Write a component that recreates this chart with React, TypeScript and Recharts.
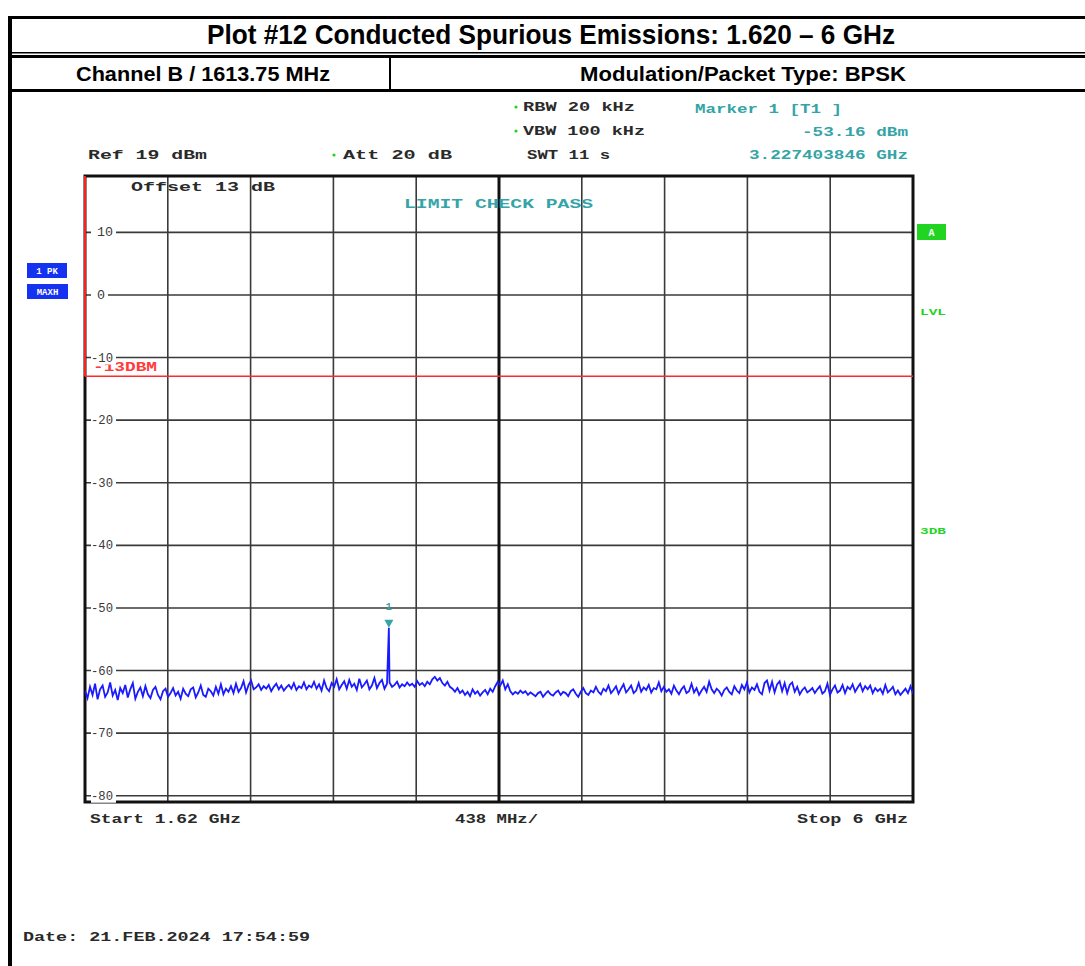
import React from 'react';
import {
  LineChart,
  Line,
  XAxis,
  YAxis,
  CartesianGrid,
  ReferenceLine,
  ReferenceDot,
  ReferenceArea,
} from 'recharts';

// ---------- data ----------
const startFreq = 1.62; // GHz
const stopFreq = 6; // GHz
const centerFreq = 3.81; // GHz
const xTicks = [1.62, 2.058, 2.496, 2.934, 3.372, 3.81, 4.248, 4.686, 5.124, 5.562, 6];
const yTicks = [10, 0, -10, -20, -30, -40, -50, -60, -70, -80];
const refLevel = 19; // dBm
const bottomLevel = -81; // dBm
const limitLevel = -13; // dBm
const limitLabel = '-13DBM';
const markerFreq = 3.227403846; // GHz
const markerLevel = -53.16; // dBm

const traceLevels = [
  -63.2, -64.4, -62.6, -63.9, -62.1, -64.6, -63.0, -62.4, -64.2, -63.5, -61.9, -64.0, -63.1, -64.7, -62.8,
  -63.6, -62.3, -64.3, -63.0, -62.0, -64.5, -63.4, -62.7, -64.1, -62.5, -63.8, -64.4, -63.1, -62.6, -63.9,
  -64.6, -63.3, -62.9, -64.2, -63.6, -62.8, -64.0, -63.4, -64.5, -62.9, -63.7, -64.1, -63.0, -62.7, -64.3,
  -63.5, -62.4, -63.9, -64.2, -62.9, -63.3, -64.0, -62.6, -63.7, -62.2, -63.8, -62.9, -63.4, -62.5, -63.6,
  -62.1, -63.4, -62.8, -61.7, -63.5, -62.3, -61.6, -63.0, -62.7, -62.2, -63.1, -62.5, -62.9, -62.3, -63.3,
  -62.6, -62.1, -63.0, -62.4, -63.2, -62.7, -62.3, -62.9, -62.0, -63.1, -62.5, -62.8, -61.9, -63.0, -62.4,
  -62.7, -61.8, -62.9, -62.2, -63.2, -61.6, -62.8, -63.3, -62.0, -62.6, -61.4, -63.0, -62.3, -61.7, -62.9,
  -61.5, -62.6, -62.1, -63.1, -61.3, -62.7, -62.2, -61.6, -63.0, -62.4, -61.2, -62.8, -62.0, -61.5, -62.9,
  -62.1, -61.9, -62.6, -62.3, -61.8, -62.7, -62.2, -62.5, -61.9, -62.4, -62.1, -62.6, -61.7, -62.3, -62.0,
  -62.5, -61.8, -62.2, -61.4, -61.0, -61.6, -61.2, -62.0, -62.4, -61.8, -62.6, -62.9, -63.4, -62.8, -63.6,
  -63.2, -63.9, -63.4, -64.1, -63.0, -63.7, -63.3, -64.0, -63.5, -63.1, -63.8, -62.9, -63.4, -62.5, -61.8,
  -62.4, -61.6, -63.0, -62.2, -63.3, -63.8, -63.4, -63.7, -63.2, -63.6, -63.3, -63.9, -63.5, -63.8, -64.1,
  -63.6, -63.4, -64.2, -63.7, -63.3, -63.8, -64.0, -63.5, -63.2, -63.9, -63.4, -63.6, -64.1, -63.3, -63.0,
  -63.7, -64.2, -63.4, -62.8, -63.6, -63.9, -63.2, -63.5, -62.6, -63.4, -63.8, -62.9, -63.3, -62.4, -63.6,
  -63.1, -62.5, -63.7, -62.9, -62.2, -63.5, -63.0, -62.4, -63.6, -63.2, -62.0, -63.4, -62.7, -63.1, -62.3,
  -63.5, -62.8, -63.0, -61.9, -63.3, -62.6, -63.4, -63.0, -63.7, -62.4, -63.2, -63.8, -63.0, -62.5, -63.6,
  -63.3, -62.1, -63.5, -62.8, -63.9, -63.2, -62.6, -63.4, -61.8, -63.0, -63.6, -62.9, -63.3, -64.0, -63.1,
  -62.7, -63.4, -63.8, -62.5, -63.2, -63.6, -62.3, -63.0, -61.9, -63.5, -62.7, -63.1, -62.2, -63.4, -63.8,
  -62.0, -61.6, -63.2, -61.8, -63.5, -62.2, -61.7, -63.3, -62.0, -63.6, -62.3, -61.9, -63.4, -62.6, -63.8,
  -63.1, -62.7, -63.5, -63.2, -62.8, -63.6, -63.0, -62.5, -63.7, -63.3, -62.1, -63.9, -63.0, -62.4, -63.5,
  -63.2, -62.3, -63.6, -62.6, -63.0, -62.2, -63.4, -62.7, -62.1, -63.3, -62.5, -63.0, -62.4, -63.6, -62.8,
  -63.3, -62.9, -63.7, -62.3, -63.5, -63.1, -62.6, -63.8, -63.2, -63.9, -63.4, -62.9, -63.6, -62.5, -63.7,
];

const sweepData = traceLevels
  .map((v, i) => ({ f: startFreq + (i * (stopFreq - startFreq)) / (traceLevels.length - 1), v }))
  .concat([{ f: markerFreq, v: markerLevel }])
  .sort((a, b) => a.f - b.f);

// ---------- layout ----------
const W = 1085;
const H = 966;
const PLOT = { left: 85, top: 176, right: 913, bottom: 802 };

const MONO = '"Liberation Mono", "DejaVu Sans Mono", monospace';
const NARROW = '"Liberation Sans Narrow", "Liberation Sans", Arial, sans-serif';
const TEAL = '#34a4a6';
const INK = '#2a2a2a';
const GREEN = '#22d422';
const BLUE_BOX = '#1432f0';

type TProps = { x: number; y: number; w: number; children: string; fill?: string; size?: number };
const MonoText = ({ x, y, w, children, fill = INK, size = 12 }: TProps) => (
  <text
    x={x}
    y={y + 4}
    textLength={w}
    lengthAdjust="spacingAndGlyphs"
    fontFamily={MONO}
    fontWeight="bold"
    fontSize={size}
    fill={fill}
  >
    {children}
  </text>
);

const YTick = (props: any) => {
  const { y, payload } = props;
  const v: number = payload.value;
  const label = String(v);
  const digitStart = PLOT.left + 12;
  const charW = 8;
  const neg = v < 0;
  const textX = neg ? digitStart - 6 : digitStart;
  const digits = neg ? label.length - 1 : label.length;
  const endX = digitStart + digits * charW;
  return (
    <g>
      <rect x={PLOT.left + 6} y={y - 7} width={endX - PLOT.left - 3} height={14} fill="#fff" />
      <text
        x={textX}
        y={y + 4}
        fontFamily={MONO}
        fontSize={12}
        fill="#3a3a3a"
        textLength={endX - textX}
        lengthAdjust="spacingAndGlyphs"
      >
        {label}
      </text>
    </g>
  );
};

const LimitLabel = (props: any) => {
  const { viewBox } = props;
  const x = viewBox.x + 8;
  const y = viewBox.y - 5;
  return (
    <text
      x={x}
      y={y}
      textLength={64}
      lengthAdjust="spacingAndGlyphs"
      fontFamily={MONO}
      fontWeight="bold"
      fontSize={12}
      fill="#ff3a3a"
    >
      {limitLabel}
    </text>
  );
};

const MarkerShape = (props: any) => {
  const { cx, cy } = props;
  return (
    <g>
      <polygon points={`${cx - 4.5},${cy - 8} ${cx + 4.5},${cy - 8} ${cx},${cy}`} fill={TEAL} />
      <text x={cx} y={cy - 18} textAnchor="middle" fontFamily={MONO} fontWeight="bold" fontSize={10} fill={TEAL}>
        1
      </text>
    </g>
  );
};

export default function App() {
  return (
    <div
      style={{
        position: 'absolute',
        left: 0,
        top: 0,
        width: W,
        height: H,
        overflow: 'hidden',
        background: '#fff',
      }}
    >
      <div style={{ position: 'absolute', left: 0, top: 0 }}>
        <LineChart
          width={W}
          height={H}
          data={sweepData}
          margin={{ top: PLOT.top, left: PLOT.left, right: W - PLOT.right, bottom: H - PLOT.bottom }}
        >
          <XAxis
            dataKey="f"
            type="number"
            domain={[startFreq, stopFreq]}
            ticks={xTicks}
            allowDataOverflow
            hide
          />
          <YAxis
            type="number"
            domain={[bottomLevel, refLevel]}
            ticks={yTicks}
            allowDataOverflow
            mirror
            axisLine={false}
            tickLine={false}
            tick={<YTick />}
            interval={0}
          />
          <CartesianGrid stroke="#3a3a3a" strokeWidth={1.6} />
          <ReferenceLine x={centerFreq} stroke="#111" strokeWidth={3} />
          <ReferenceLine y={limitLevel} stroke="#ff2a2a" strokeWidth={1.6} label={<LimitLabel />} />
          <ReferenceArea
            x1={startFreq}
            x2={stopFreq}
            y1={bottomLevel}
            y2={refLevel}
            fill="none"
            stroke="#111"
            strokeWidth={3}
          />
          <ReferenceLine
            segment={[
              { x: startFreq, y: refLevel },
              { x: startFreq, y: limitLevel },
            ]}
            stroke="#ff2020"
            strokeWidth={2}
          />
          <Line
            type="linear"
            dataKey="v"
            stroke="#1a1aff"
            strokeWidth={1.8}
            dot={false}
            isAnimationActive={false}
          />
          <ReferenceDot x={markerFreq} y={markerLevel} r={0} shape={<MarkerShape />} />
        </LineChart>
      </div>

      <svg
        width={W}
        height={H}
        style={{ position: 'absolute', left: 0, top: 0, pointerEvents: 'none' }}
      >
        {/* header table */}
        <rect x={8} y={16} width={1090} height={3} fill="#000" />
        <rect x={8} y={16} width={4} height={960} fill="#000" />
        <rect x={8} y={52} width={1090} height={1.5} fill="#000" />
        <rect x={8} y={55} width={1090} height={3} fill="#000" />
        <rect x={8} y={89} width={1090} height={3} fill="#000" />
        <rect x={389} y={57} width={2} height={33} fill="#000" />
        <text
          x={207}
          y={44}
          textLength={688}
          lengthAdjust="spacingAndGlyphs"
          fontFamily={NARROW}
          fontWeight="bold"
          fontSize={28}
          fill="#000"
        >
          Plot #12 Conducted Spurious Emissions: 1.620 – 6 GHz
        </text>
        <text
          x={76}
          y={81}
          textLength={254}
          lengthAdjust="spacingAndGlyphs"
          fontFamily={NARROW}
          fontWeight="bold"
          fontSize={21}
          fill="#000"
        >
          Channel B / 1613.75 MHz
        </text>
        <text
          x={580}
          y={81}
          textLength={326}
          lengthAdjust="spacingAndGlyphs"
          fontFamily={NARROW}
          fontWeight="bold"
          fontSize={21}
          fill="#000"
        >
          Modulation/Packet Type: BPSK
        </text>

        {/* instrument settings */}
        <circle cx={516} cy={107} r={1.6} fill={GREEN} />
        <MonoText x={523} y={107} w={112}>RBW 20 kHz</MonoText>
        <circle cx={516} cy={131} r={1.6} fill={GREEN} />
        <MonoText x={523} y={131} w={122}>VBW 100 kHz</MonoText>
        <MonoText x={527} y={155} w={83}>SWT 11 s</MonoText>
        <MonoText x={695} y={109} w={147} fill={TEAL}>Marker 1 [T1 ]</MonoText>
        <MonoText x={802} y={132} w={106} fill={TEAL}>-53.16 dBm</MonoText>
        <MonoText x={749} y={155} w={159} fill={TEAL}>3.227403846 GHz</MonoText>
        <MonoText x={88} y={155} w={119}>Ref  19 dBm</MonoText>
        <circle cx={334} cy={155} r={1.6} fill={GREEN} />
        <MonoText x={343} y={155} w={109}>Att  20 dB</MonoText>
        <MonoText x={131} y={187} w={144}>Offset  13 dB</MonoText>
        <MonoText x={404} y={204} w={189} fill={TEAL}>LIMIT CHECK  PASS</MonoText>

        {/* side labels */}
        <rect x={27} y={263} width={40} height={15} fill={BLUE_BOX} />
        <text x={47} y={274} textAnchor="middle" fontFamily={MONO} fontWeight="bold" fontSize={9} fill="#fff">1 PK</text>
        <rect x={27} y={284} width={41} height={15} fill={BLUE_BOX} />
        <text x={47.5} y={295} textAnchor="middle" fontFamily={MONO} fontWeight="bold" fontSize={9} fill="#fff">MAXH</text>
        <rect x={917} y={224} width={29} height={16} fill={GREEN} />
        <text x={931.5} y={236} textAnchor="middle" fontFamily={MONO} fontWeight="bold" fontSize={10} fill="#fff">A</text>
        <MonoText x={920} y={311} w={26} fill={GREEN} size={9}>LVL</MonoText>
        <MonoText x={920} y={530} w={26} fill={GREEN} size={9}>3DB</MonoText>

        {/* footer */}
        <MonoText x={90} y={819} w={151}>Start  1.62 GHz</MonoText>
        <MonoText x={455} y={819} w={83}>438 MHz/</MonoText>
        <MonoText x={797} y={819} w={111}>Stop  6 GHz</MonoText>
        <MonoText x={23} y={937} w={287}>Date: 21.FEB.2024  17:54:59</MonoText>
      </svg>
    </div>
  );
}
